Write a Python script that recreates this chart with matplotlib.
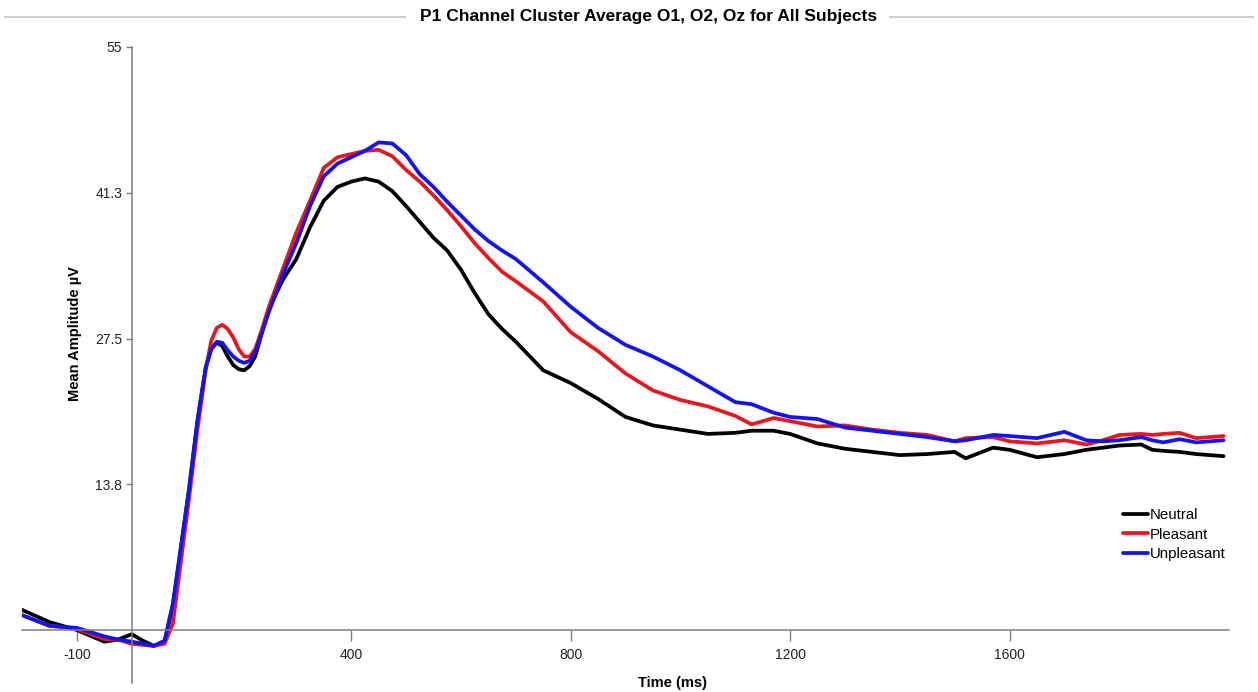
import matplotlib
matplotlib.use("Agg")
import matplotlib.pyplot as plt
from matplotlib.lines import Line2D

plt.rcParams["font.family"] = ["Liberation Sans", "DejaVu Sans"]

# time points (ms) shared by all three conditions
time_ms = [-200, -150, -100, -50, -25, 0, 20, 40, 60, 75, 90, 105, 120, 135,
           145, 155, 165, 175, 185, 195, 205, 215, 225, 237, 250, 275, 300,
           325, 350, 375, 400, 425, 450, 475, 500, 525, 550, 575, 600, 625,
           650, 675, 700, 750, 800, 850, 900, 950, 1000, 1050, 1100, 1130,
           1170, 1200, 1250, 1300, 1350, 1400, 1450, 1500, 1520, 1570, 1600,
           1650, 1700, 1740, 1770, 1800, 1840, 1860, 1880, 1910, 1940, 1990]

neutral = [1.9, 0.75, 0.0, -1.1, -0.9, -0.4, -1.0, -1.5, -1.1, 2.3, 7.8,
           13.5, 19.8, 24.8, 26.5, 27.1, 26.8, 25.8, 25.0, 24.6, 24.5, 24.9,
           25.8, 28.0, 30.3, 33.0, 35.0, 38.0, 40.5, 41.8, 42.3, 42.6, 42.3,
           41.4, 40.0, 38.5, 37.0, 35.8, 34.0, 31.8, 29.8, 28.4, 27.2, 24.5,
           23.3, 21.8, 20.1, 19.3, 18.9, 18.5, 18.6, 18.8, 18.8, 18.5, 17.6,
           17.1, 16.8, 16.5, 16.6, 16.8, 16.2, 17.2, 17.0, 16.3, 16.6, 17.0,
           17.2, 17.4, 17.5, 17.0, 16.9, 16.8, 16.6, 16.4]

pleasant = [1.4, 0.4, 0.1, -0.85, -0.9, -1.3, -1.4, -1.5, -1.3, 0.6, 6.6,
            12.6, 19.0, 24.6, 27.3, 28.5, 28.8, 28.4, 27.6, 26.5, 25.8, 25.8,
            26.5, 28.3, 30.5, 34.0, 37.5, 40.5, 43.6, 44.6, 44.9, 45.2, 45.3,
            44.7, 43.4, 42.3, 41.0, 39.6, 38.1, 36.5, 35.1, 33.8, 32.9, 31.0,
            28.1, 26.3, 24.2, 22.6, 21.7, 21.1, 20.2, 19.4, 20.0, 19.7, 19.2,
            19.3, 18.9, 18.6, 18.4, 17.8, 18.1, 18.2, 17.8, 17.6, 17.9, 17.5,
            17.9, 18.4, 18.5, 18.4, 18.5, 18.6, 18.1, 18.3]

unpleasant = [1.4, 0.4, 0.2, -0.6, -0.9, -1.1, -1.3, -1.5, -1.0, 2.5, 8.0,
              13.5, 19.8, 24.8, 26.5, 27.2, 27.1, 26.4, 25.8, 25.4, 25.2,
              25.4, 26.2, 28.0, 30.0, 33.5, 36.5, 40.0, 42.8, 44.0, 44.6,
              45.2, 46.0, 45.9, 44.8, 43.0, 41.8, 40.4, 39.1, 37.8, 36.7,
              35.8, 35.0, 32.8, 30.5, 28.5, 26.9, 25.8, 24.5, 23.0, 21.5,
              21.3, 20.5, 20.1, 19.9, 19.1, 18.8, 18.5, 18.2, 17.8, 17.9,
              18.4, 18.3, 18.1, 18.7, 17.9, 17.8, 17.9, 18.2, 17.9, 17.7,
              18.0, 17.7, 17.9]

series = [("Neutral", neutral, "#000000"),
          ("Pleasant", pleasant, "#e8161e"),
          ("Unpleasant", unpleasant, "#1414f0")]

x_ticks = [-100, 400, 800, 1200, 1600]
y_ticks = [13.75, 27.5, 41.25, 55]
y_tick_labels = ["13.8", "27.5", "41.3", "55"]

W, H = 1258, 692
fig = plt.figure(figsize=(W / 100, H / 100), dpi=100)
ax = fig.add_axes([22 / W, 1 - 683 / H, (1229 - 22) / W, (683 - 47) / H])

for name, values, color in series:
    ax.plot(time_ms, values, color=color, lw=2.7, label=name,
            solid_joinstyle="round", solid_capstyle="round")

ax.set_xlim(-200, 2000)
ax.set_ylim(-5, 55)

# axes cross at the origin
ax.spines["left"].set_position(("data", 0))
ax.spines["bottom"].set_position(("data", 0))
ax.spines["top"].set_visible(False)
ax.spines["right"].set_visible(False)
for side in ("left", "bottom"):
    ax.spines[side].set_color("#7f7f7f")
    ax.spines[side].set_linewidth(1.1)

ax.set_xticks(x_ticks)
ax.set_xticklabels([str(t) for t in x_ticks])
ax.set_yticks(y_ticks)
ax.set_yticklabels(y_tick_labels)
ax.tick_params(axis="x", direction="out", length=8, width=1, color="#7f7f7f",
               pad=5, labelsize=10, labelcolor="#222222")
ax.tick_params(axis="y", direction="out", length=4, width=1, color="#7f7f7f",
               pad=3, labelsize=10, labelcolor="#222222")

aw = 1229 - 22
ah = 683 - 47
ax.set_xlabel("Time (ms)", fontweight="bold", fontsize=10.5)
ax.xaxis.set_label_coords((672 - 22) / aw, (683 - 683) / ah)
ax.xaxis.label.set_va("center")
ax.set_ylabel("Mean Amplitude µV", fontweight="bold", fontsize=10.5)
ax.yaxis.set_label_coords((75 - 22) / aw, (683 - 334) / ah)
ax.yaxis.label.set_va("center")

ax.legend(loc="upper left", bbox_to_anchor=(1123 / W, 1 - 508 / H),
          bbox_transform=fig.transFigure, frameon=False, fontsize=10.8,
          handlelength=1.65, handletextpad=0.15, labelspacing=0.38,
          borderpad=0, borderaxespad=0)

# title with a rule on both sides
title_y = 1 - 17 / H
fig.text(649 / W, title_y, "P1 Channel Cluster Average O1, O2, Oz for All Subjects",
         ha="center", va="center", fontsize=12.5, fontweight="bold")
for x0, x1 in [(5, 405), (890, 1253)]:
    fig.add_artist(Line2D([x0 / W, x1 / W], [title_y, title_y],
                          transform=fig.transFigure, color="#cfcfcf", lw=1.5))

fig.savefig("out.png", dpi=100)
